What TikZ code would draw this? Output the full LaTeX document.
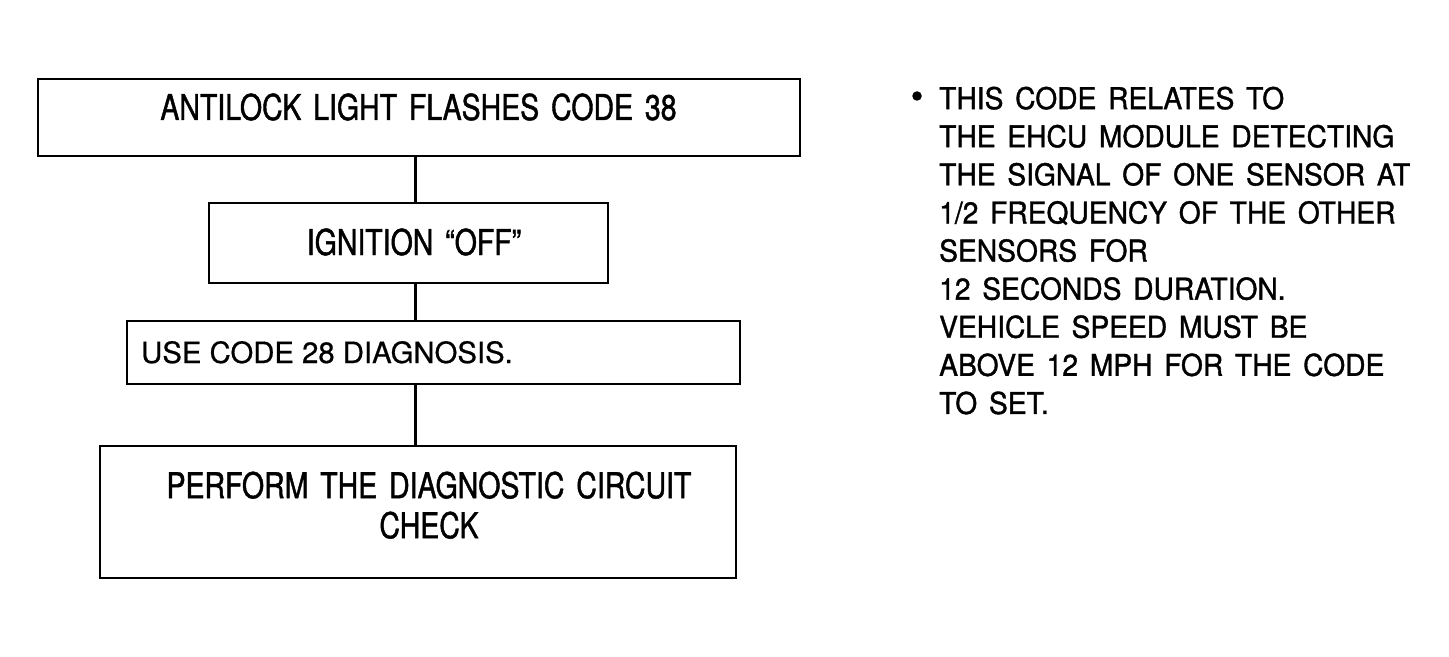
\documentclass[tikz,border=0pt]{standalone}
\usepackage{fontspec}
\setmainfont{TeX Gyre Heros}[FakeBold=0.6]
\newfontfamily\FlowFont{TeX Gyre Heros}[FakeStretch=0.8,FakeBold=1.2,WordSpace=1.5]
\newfontfamily\NoteFont{TeX Gyre Heros}[FakeStretch=0.94,FakeBold=1.2,WordSpace=1.5]
\usetikzlibrary{positioning}
\tikzset{
  StepBox/.style={draw=black,line width=2.8bp,inner sep=0pt},
  FlowTxt/.style={font=\FlowFont\fontsize{35.6bp}{40bp}\selectfont,inner sep=0pt},
  PlainTxt/.style={font=\fontsize{29.3bp}{35bp}\selectfont,inner sep=0pt},
  NoteTxt/.style={font=\NoteFont\fontsize{30bp}{38.1bp}\selectfont,inner sep=0pt},
  Conn/.style={line width=2.8bp}
}

\begin{document}
\begin{tikzpicture}[x=1bp,y=-1bp]
\useasboundingbox[fill=white] (0,0) rectangle (1449,657);

\node[StepBox,minimum width=762bp,minimum height=77bp] (b1) at (419,117.5) {};
\node[StepBox,minimum width=399bp,minimum height=80bp] (b2) at (408.5,243) {};
\node[StepBox,minimum width=613bp,minimum height=63bp] (b3) at (433.5,352.5) {};
\node[StepBox,minimum width=636bp,minimum height=132bp] (b4) at (418,512) {};

\node[FlowTxt,anchor=base] (t1) at (418.5,120) {ANTILOCK LIGHT FLASHES CODE 38};
\node[FlowTxt,anchor=base] (t2) at (414,255) {IGNITION “OFF”};
\node[PlainTxt,anchor=base west] (t3) at (141,363) {USE CODE 28 DIAGNOSIS.};
\node[FlowTxt,anchor=north,align=center] (t4) at (429,471.4) {PERFORM THE DIAGNOSTIC CIRCUIT\\CHECK};

\coordinate (Spine) at (415.5,0);
\draw[Conn] (b1.south -| Spine) -- (b2.north -| Spine);
\draw[Conn] (b2.south -| Spine) -- (b3.north -| Spine);
\draw[Conn] (b3.south -| Spine) -- (b4.north -| Spine);

\node[circle,fill=black,inner sep=0pt,minimum size=9.5bp] (dot) at (917,96) {};
\node[NoteTxt,anchor=north west,align=left] (note) at (939,86.5) {THIS CODE RELATES TO\\
THE EHCU MODULE DETECTING\\
THE SIGNAL OF ONE SENSOR AT\\
1/2 FREQUENCY OF THE OTHER\\
SENSORS FOR\\
12 SECONDS DURATION.\\
VEHICLE SPEED MUST BE\\
ABOVE 12 MPH FOR THE CODE\\
TO SET.};
\end{tikzpicture}
\end{document}
